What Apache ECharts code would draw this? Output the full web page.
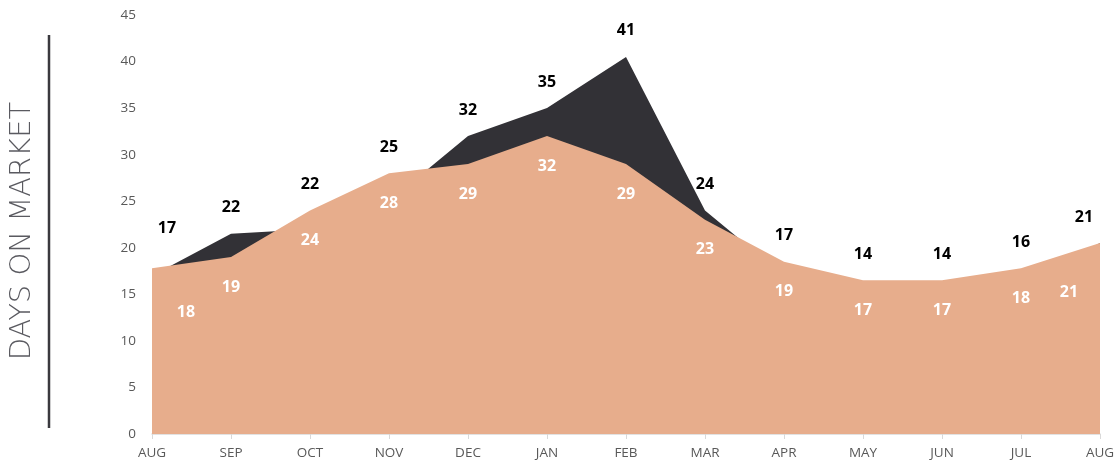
<!DOCTYPE html>
<html>
<head>
<meta charset="utf-8">
<script src="https://cdn.jsdelivr.net/npm/echarts@6/dist/echarts.min.js"></script>
<style>
html,body{margin:0;padding:0;background:#fff;}
#chart{width:1118px;height:466px;}
</style>
</head>
<body>
<div id="chart"></div>
<script>
const months = ['AUG','SEP','OCT','NOV','DEC','JAN','FEB','MAR','APR','MAY','JUN','JUL','AUG'];
const darkValues = [17, 21.5, 22, 25, 32, 35, 40.5, 24, 17, 14, 14, 16, 20.5];
const peachValues = [17.8, 19, 24, 28, 29, 32, 29, 23, 18.5, 16.5, 16.5, 17.8, 20.5];
const yTicks = [0, 45, 5];
const axisTitle = 'DAYS ON MARKET';

const darkColor = '#323136';
const peachColor = '#E7AD8C';
const last = months.length - 1;
const topOfBoth = darkValues.map((v, i) => Math.max(v, peachValues[i]));

// end labels are nudged inward so they stay inside the plot, as in the original
const peachData = peachValues.map((v, i) => {
  if (i === 0) return {value: v, label: {offset: [34, 14]}};
  if (i === last) return {value: v, label: {offset: [-31, 19]}};
  return v;
});
const darkLabelData = topOfBoth.map((v, i) => {
  if (i === 0) return {value: v, label: {offset: [15, -14]}};
  if (i === last) return {value: v, label: {offset: [-16, 0]}};
  return v;
});

const chart = echarts.init(document.getElementById('chart'), null, {renderer: 'canvas'});
chart.setOption({
  animation: false,
  backgroundColor: '#ffffff',
  grid: {left: 152, right: 18, top: 15, bottom: 32, containLabel: false},
  xAxis: {
    type: 'category',
    data: months,
    boundaryGap: false,
    axisLine: {show: true, lineStyle: {color: '#D9D9D9', width: 1.5}},
    axisTick: {show: true, length: 5, lineStyle: {color: '#D9D9D9'}},
    axisLabel: {color: '#595959', fontFamily: 'Open Sans', fontSize: 13.5, margin: 12}
  },
  yAxis: {
    type: 'value',
    min: yTicks[0], max: yTicks[1], interval: yTicks[2],
    axisLine: {show: false},
    axisTick: {show: false},
    splitLine: {show: false},
    axisLabel: {color: '#595959', fontFamily: 'Open Sans', fontSize: 13.5, margin: 16}
  },
  series: [
    {
      name: 'dark', type: 'line', data: darkValues,
      symbol: 'none', lineStyle: {width: 0}, areaStyle: {color: darkColor, opacity: 1},
      z: 1
    },
    {
      name: 'peach', type: 'line', data: peachData,
      symbol: 'circle', symbolSize: 0.1, showSymbol: true,
      itemStyle: {color: 'rgba(0,0,0,0)'},
      lineStyle: {width: 0}, areaStyle: {color: peachColor, opacity: 1},
      label: {
        show: true, position: 'bottom', distance: 22,
        color: '#ffffff', fontFamily: 'Open Sans', fontWeight: 'bold', fontSize: 16,
        formatter: p => Math.round(p.value)
      },
      z: 2
    },
    {
      name: 'darkLabels', type: 'line', data: darkLabelData,
      symbol: 'circle', symbolSize: 0.1, showSymbol: true,
      itemStyle: {color: 'rgba(0,0,0,0)'},
      lineStyle: {width: 0, opacity: 0},
      label: {
        show: true, position: 'top', distance: 18,
        color: '#000000', fontFamily: 'Open Sans', fontWeight: 'bold', fontSize: 16,
        formatter: p => Math.round(darkValues[p.dataIndex])
      },
      z: 3, silent: true
    }
  ],
  graphic: [
    {
      type: 'line', shape: {x1: 49, y1: 35, x2: 49, y2: 428},
      style: {stroke: '#3A393E', lineWidth: 2.5}
    },
    {
      type: 'text', x: 22, y: 231, rotation: Math.PI / 2,
      style: {
        text: axisTitle, fill: '#5A5A60', font: '200 29px "DejaVu Sans"',
        textAlign: 'center', textVerticalAlign: 'middle'
      }
    }
  ]
});
</script>
</body>
</html>
